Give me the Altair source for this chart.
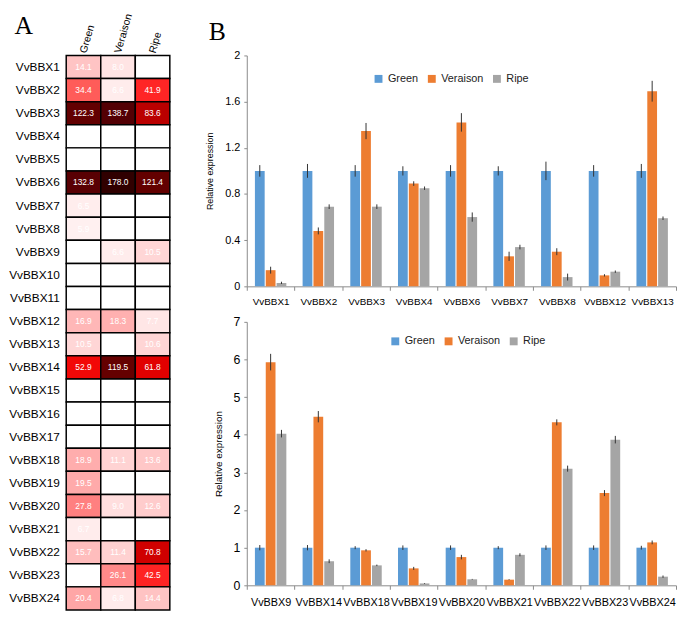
import altair as alt
import pandas as pd

FONT = "Liberation Sans"
SERIF = "Liberation Serif"

stages = ["Green", "Veraison", "Ripe"]
stage_colors = ["#5B9BD5", "#ED7D31", "#A5A5A5"]

# ---------------- Panel A: heatmap ----------------
heat_genes = ["VvBBX1", "VvBBX2", "VvBBX3", "VvBBX4", "VvBBX5", "VvBBX6", "VvBBX7", "VvBBX8",
              "VvBBX9", "VvBBX10", "VvBBX11", "VvBBX12", "VvBBX13", "VvBBX14", "VvBBX15", "VvBBX16",
              "VvBBX17", "VvBBX18", "VvBBX19", "VvBBX20", "VvBBX21", "VvBBX22", "VvBBX23", "VvBBX24"]
heat_green = [14.1, 34.4, 122.3, None, None, 132.8, 6.5, 5.9, None, None, None, 16.9,
              10.5, 52.9, None, None, None, 18.9, 19.5, 27.8, 6.7, 15.7, None, 20.4]
heat_veraison = [8.0, 6.6, 138.7, None, None, 178.0, None, None, 6.6, None, None, 18.3,
                 None, 119.5, None, None, None, 11.1, None, 9.0, None, 11.4, 26.1, 6.8]
heat_ripe = [None, 41.9, 83.6, None, None, 121.4, None, None, 10.5, None, None, 7.7,
             10.6, 61.8, None, None, None, 13.6, None, 12.6, None, 70.8, 42.5, 14.4]

heat_rows = []
for s, vals in zip(stages, [heat_green, heat_veraison, heat_ripe]):
    for g, v in zip(heat_genes, vals):
        heat_rows.append({"gene": g, "stage": s, "v": v})
heat_df = pd.DataFrame(heat_rows)

heat_domain = [0, 6, 10, 20, 30, 42, 55, 72, 85, 120, 180]
heat_range = ["#ffffff", "#fff0f0", "#ffd8d8", "#ffa8a8", "#ff7474", "#ff2424",
              "#f00000", "#cc0000", "#b80000", "#640000", "#2e0000"]

heat_base = alt.Chart(heat_df).encode(
    x=alt.X("stage:N", sort=stages,
            scale=alt.Scale(paddingInner=0, paddingOuter=0),
            axis=alt.Axis(orient="top", title=None, labelAngle=-74, labelAlign="left",
                          labelBaseline="middle", labelFontSize=10.5, labelFont=FONT,
                          labelColor="black", ticks=False, domain=False, labelPadding=3)),
    y=alt.Y("gene:N", sort=heat_genes,
            axis=alt.Axis(title=None, ticks=False, domain=False, labelFontSize=12,
                          labelFont=FONT, labelColor="black", labelPadding=7)),
)

heat_rect = heat_base.transform_calculate(
    fv="datum.v == null ? 0 : datum.v"
).mark_rect(stroke="black", strokeWidth=1.5).encode(
    fill=alt.condition(
        "datum.v == null",
        alt.value("#ffffff"),
        alt.Fill("fv:Q", scale=alt.Scale(domain=heat_domain, range=heat_range), legend=None),
    )
)
heat_text = heat_base.transform_filter("datum.v != null").mark_text(
    color="white", fontSize=8.5, font=FONT
).encode(text=alt.Text("v:Q", format=".1f"))

label_a = alt.Chart(pd.DataFrame({"t": ["A"]})).mark_text(
    font=SERIF, fontSize=26, color="black"
).encode(text="t:N", x=alt.value(-43), y=alt.value(-30))

heat = alt.layer(heat_rect, heat_text, label_a).properties(width=105, height=562)

# ---------------- Panel B: bar charts ----------------
top_genes = ["VvBBX1", "VvBBX2", "VvBBX3", "VvBBX4", "VvBBX6", "VvBBX7", "VvBBX8", "VvBBX12", "VvBBX13"]
top_green = [1.0, 1.0, 1.0, 1.0, 1.0, 1.0, 1.0, 1.0, 1.0]
top_green_err = [0.05, 0.06, 0.05, 0.04, 0.05, 0.04, 0.08, 0.05, 0.06]
top_veraison = [0.14, 0.48, 1.345, 0.89, 1.42, 0.26, 0.30, 0.095, 1.69]
top_veraison_err = [0.03, 0.03, 0.07, 0.02, 0.08, 0.04, 0.03, 0.01, 0.09]
top_ripe = [0.03, 0.69, 0.69, 0.85, 0.60, 0.34, 0.08, 0.127, 0.59]
top_ripe_err = [0.01, 0.02, 0.02, 0.015, 0.04, 0.02, 0.03, 0.01, 0.015]
top_ticks = [0, 0.4, 0.8, 1.2, 1.6, 2]

bot_genes = ["VvBBX9", "VvBBX14", "VvBBX18", "VvBBX19", "VvBBX20", "VvBBX21", "VvBBX22", "VvBBX23", "VvBBX24"]
bot_green = [1.0, 1.0, 1.0, 1.0, 1.0, 1.0, 1.0, 1.0, 1.0]
bot_green_err = [0.07, 0.07, 0.04, 0.06, 0.06, 0.04, 0.06, 0.06, 0.05]
bot_veraison = [5.93, 4.48, 0.93, 0.45, 0.75, 0.15, 4.33, 2.45, 1.14]
bot_veraison_err = [0.22, 0.15, 0.03, 0.04, 0.06, 0.01, 0.08, 0.08, 0.05]
bot_ripe = [4.03, 0.64, 0.53, 0.05, 0.16, 0.81, 3.10, 3.87, 0.23]
bot_ripe_err = [0.10, 0.05, 0.02, 0.01, 0.01, 0.04, 0.08, 0.10, 0.03]
bot_ticks = [0, 1, 2, 3, 4, 5, 6, 7]


def bar_panel(genes, series, ymax, ticks, height, leg_x, leg_y, ylab_size, xlab_size,
              title_size, xlab_pad, label_b=False):
    rows = []
    for s, (vals, errs) in zip(stages, series):
        for g, v, e in zip(genes, vals, errs):
            rows.append({"gene": g, "stage": s, "val": v, "err": e})
    df = pd.DataFrame(rows)
    yaxis = alt.Axis(values=ticks, tickCount=len(ticks), format="~g",
                     title="Relative expression",
                     titleFontSize=title_size, titleFont=FONT, titleFontWeight="normal",
                     titleColor="black", titlePadding=10, labelFontSize=ylab_size,
                     labelFont=FONT, labelColor="black", grid=False, tickSize=3,
                     labelOverlap=False,
                     domainColor="#8a8a8a", tickColor="#8a8a8a", labelPadding=4)
    yscale = alt.Scale(domain=[0, ymax], nice=False)
    base = alt.Chart(df).encode(
        x=alt.X("gene:N", sort=genes, scale=alt.Scale(paddingInner=0, paddingOuter=0),
                axis=alt.Axis(title=None, labelAngle=0, tickBand="extent", tickSize=4,
                              labelFontSize=xlab_size, labelFont=FONT, labelColor="black",
                              labelOverlap=False,
                              domainColor="#8a8a8a", tickColor="#8a8a8a", labelPadding=xlab_pad)),
        xOffset=alt.XOffset("stage:N", sort=stages,
                            scale=alt.Scale(paddingInner=0.1, paddingOuter=0.75)),
    )
    bars = base.mark_bar().encode(
        y=alt.Y("val:Q", scale=yscale, axis=yaxis),
        color=alt.Color("stage:N", sort=stages,
                        scale=alt.Scale(domain=stages, range=stage_colors),
                        legend=alt.Legend(title=None, orient="none", legendX=leg_x, legendY=leg_y,
                                          direction="horizontal", symbolType="square",
                                          symbolSize=64, symbolStrokeWidth=0,
                                          labelFontSize=11, labelFont=FONT, labelColor="#222",
                                          columnPadding=8, labelOffset=4)),
    )
    err = base.transform_calculate(
        lo="datum.val - datum.err", hi="datum.val + datum.err"
    ).mark_rule(color="#333333", strokeWidth=1).encode(
        y=alt.Y("lo:Q", scale=yscale, axis=yaxis), y2="hi:Q"
    )
    layers = [bars, err]
    if label_b:
        lb = alt.Chart(pd.DataFrame({"t": ["B"]})).mark_text(
            font=SERIF, fontSize=26, color="black"
        ).encode(text="t:N", x=alt.value(-30), y=alt.value(-24))
        layers.append(lb)
    return alt.layer(*layers).properties(width=435, height=height)


top = bar_panel(top_genes,
                [(top_green, top_green_err), (top_veraison, top_veraison_err), (top_ripe, top_ripe_err)],
                2, top_ticks, 234, 128, 18, 11, 10, 9, 6, label_b=True)
bot = bar_panel(bot_genes,
                [(bot_green, bot_green_err), (bot_veraison, bot_veraison_err), (bot_ripe, bot_ripe_err)],
                7, bot_ticks, 267, 145, 14, 12.5, 11, 10, 7)

right = alt.vconcat(top, bot, spacing=36, bounds="flush").resolve_scale(color="independent")

chart = alt.hconcat(heat, right, spacing=78, bounds="flush").resolve_scale(
    color="independent", fill="independent"
).properties(
    padding={"left": 0, "top": 0, "right": 0, "bottom": 0},
    background="white",
).configure_view(stroke=None)

chart.save("out.html", embed_options={"renderer": "svg", "actions": False})
